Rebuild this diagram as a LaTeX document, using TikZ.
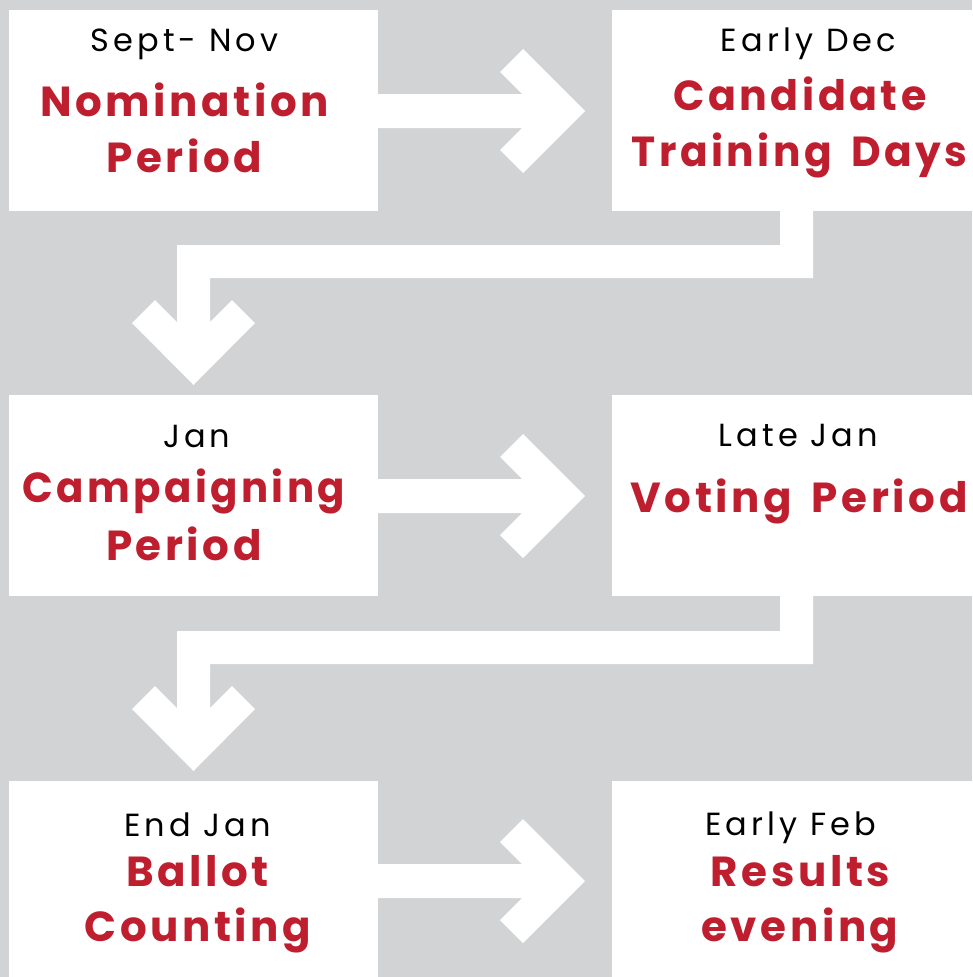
\documentclass[tikz,border=0pt]{standalone}
\usepackage{graphicx}
\usepackage{fontspec}
\setmainfont{Poppins}
\newfontfamily\pop[LetterSpace=13]{Poppins}
\newfontfamily\popt[LetterSpace=8.5,WordSpace=1.6]{Poppins}
\definecolor{bg}{HTML}{D1D3D4}
\definecolor{crimson}{HTML}{BF1E2E}
\tikzset{
  harrow/.pic={\fill[white] (-212,-17) -- (-63,-17) -- (-85,-39) -- (-62,-62) -- (0,0) -- (-62,62) -- (-85,39) -- (-63,17) -- (-212,17) -- cycle;},
  darrow/.pic={\fill[white] (586.5,-180) -- (586.5,-140) -- (-16.5,-140) -- (-16.5,-63) -- (-38.5,-85) -- (-61.5,-62) -- (0,0) -- (61.5,-62) -- (38.5,-85) -- (16.5,-63) -- (16.5,-107) -- (619.5,-107) -- (619.5,-180) -- cycle;}
}
\begin{document}
\begin{tikzpicture}[x=1pt,y=-1pt,
  lbox/.style={fill=white, draw=none, minimum width=369pt, minimum height=201pt, anchor=north west, inner sep=0},
  rbox/.style={fill=white, draw=none, minimum width=370pt, minimum height=201pt, anchor=north west, inner sep=0},
  datetext/.style={anchor=base, inner sep=0, text=black, font=\pop\fontsize{32}{38}\selectfont},
  titletext/.style={anchor=base, inner sep=0, text=crimson, font=\popt\bfseries\fontsize{42}{50}\selectfont}]
\useasboundingbox (0,0) rectangle (972,977);
\clip (0,0) rectangle (972,977);
\fill[bg] (0,0) rectangle (972,977);
% boxes
\node[lbox] (b1) at (9,10) {};
\node[rbox] (b2) at (612,10) {};
\node[lbox] (b3) at (9,395) {};
\node[rbox] (b4) at (612,395) {};
\node[lbox] (b5) at (9,781) {};
\node[rbox] (b6) at (612,781) {};
% arrows
\pic at (585,111) {harrow};
\pic at (585,496) {harrow};
\pic at (585,881) {harrow};
\pic at (193.5,385) {darrow};
\pic at (193.5,771) {darrow};
% texts
\node[datetext] (d1) at (184.5,51.7) {Sept- Nov};
\node[titletext] (t1a) at (184.5,116.7) {Nomination};
\node[titletext] (t1b) at (184.5,172.3) {Period};
\node[datetext] (d2) at (808.5,51.7) {Early Dec};
\node[titletext] (t2a) at (800,110) {\scalebox{0.98}[1]{Candidate}};
\node[titletext] (t2b) at (799.5,166.7) {\scalebox{0.97}[1]{Training Days}};
\node[datetext] (d3) at (196.7,447.3) {Jan};
\node[titletext] (t3a) at (183.8,502.3) {\scalebox{0.96}[1]{Campaigning}};
\node[titletext] (t3b) at (183.8,560) {Period};
\node[datetext] (d4) at (798.3,446.7) {Late Jan};
\node[titletext] (t4a) at (799,512.7) {Voting Period};
\node[datetext] (d5) at (197.5,836) {End Jan};
\node[titletext] (t5a) at (197.7,886.7) {Ballot};
\node[titletext] (t5b) at (197.8,941.7) {Counting};
\node[datetext] (d6) at (790.7,835) {Early Feb};
\node[titletext] (t6a) at (800.5,886.7) {Results};
\node[titletext] (t6b) at (800,941.7) {evening};
\end{tikzpicture}
\end{document}
